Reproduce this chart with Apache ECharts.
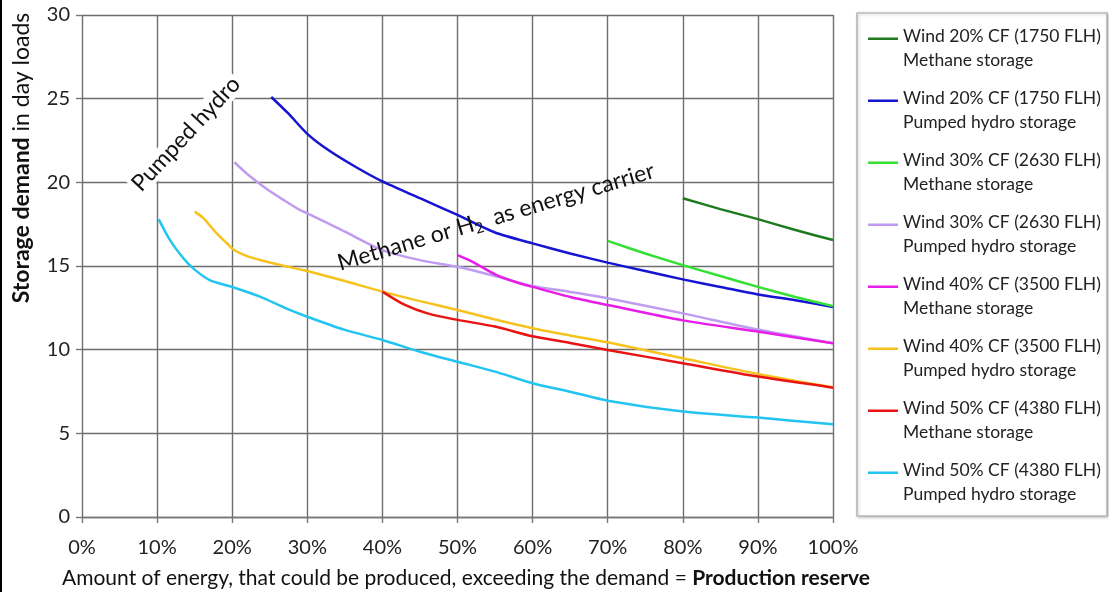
<!DOCTYPE html>
<html>
<head>
<meta charset="utf-8">
<script src="https://cdn.jsdelivr.net/npm/echarts@6/dist/echarts.min.js"></script>
<style>html,body{margin:0;padding:0;background:#fff;}#c{width:1109px;height:592px;}</style>
</head>
<body>
<div id="c"></div>
<script>
// ---- data (x = production reserve in %, y = storage demand in day loads) ----
const xTicks = [0, 10, 20, 30, 40, 50, 60, 70, 80, 90, 100];
const yTicks = [0, 5, 10, 15, 20, 25, 30];

const seriesNames = [
  'Wind 20% CF (1750 FLH)\nMethane storage',
  'Wind 20% CF (1750 FLH)\nPumped hydro storage',
  'Wind 30% CF (2630 FLH)\nMethane storage',
  'Wind 30% CF (2630 FLH)\nPumped hydro storage',
  'Wind 40% CF (3500 FLH)\nMethane storage',
  'Wind 40% CF (3500 FLH)\nPumped hydro storage',
  'Wind 50% CF (4380 FLH)\nMethane storage',
  'Wind 50% CF (4380 FLH)\nPumped hydro storage'
];

const wind20Methane = [[80,19.05],[85,18.4],[90,17.8],[95,17.15],[100,16.55]];
const wind20Hydro = [[25.2,25.1],[27.5,24.1],[30,22.9],[32.8,21.93],[36.4,20.93],[40,20.05],[45,19.05],[50,18.05],[55,17.0],[60,16.35],[65,15.75],[70,15.2],[75,14.7],[80,14.2],[85,13.75],[90,13.3],[95,12.95],[100,12.55]];
const wind30Methane = [[70,16.5],[75,15.75],[80,15.05],[85,14.4],[90,13.75],[95,13.15],[100,12.6]];
const wind30Hydro = [[20.3,21.2],[22,20.5],[24.6,19.6],[27,18.9],[29,18.35],[30,18.15],[35,17.05],[40,15.95],[45,15.35],[50,14.95],[55,14.4],[60,13.8],[65,13.45],[70,13.07],[80,12.17],[90,11.2],[100,10.38]];
const wind40Methane = [[50,15.65],[52,15.25],[55,14.5],[58,14.0],[60,13.75],[65,13.15],[70,12.67],[80,11.75],[90,11.08],[100,10.38]];
const wind40Hydro = [[15,18.25],[16.2,17.85],[17.9,16.96],[19.3,16.36],[20.1,16.0],[21.9,15.6],[23.7,15.36],[26,15.1],[29,14.8],[30,14.7],[35,14.1],[40,13.47],[45,12.9],[50,12.37],[55,11.8],[60,11.28],[65,10.85],[70,10.44],[80,9.49],[90,8.55],[100,7.75]];
const wind50Methane = [[40,13.47],[43,12.67],[46,12.17],[50,11.78],[55,11.38],[60,10.8],[65,10.4],[70,9.98],[80,9.19],[90,8.39],[100,7.73]];
const wind50Hydro = [[10.2,17.8],[11.7,16.56],[13.5,15.46],[14.8,14.86],[17,14.16],[20.1,13.73],[23.7,13.17],[27,12.5],[30,11.97],[35,11.18],[40,10.58],[45,9.88],[50,9.28],[55,8.69],[60,7.99],[65,7.49],[70,6.95],[80,6.3],[90,5.94],[100,5.54]];

const seriesData = [wind20Methane, wind20Hydro, wind30Methane, wind30Hydro, wind40Methane, wind40Hydro, wind50Methane, wind50Hydro];
const colors = ['#1f7a1f', '#1414d2', '#33e033', '#bf9cf0', '#e81ee8', '#f6c21e', '#e81414', '#22c4f0'];

const FONT = 'Lato';

const chart = echarts.init(document.getElementById('c'), null, {renderer: 'canvas'});

const series = seriesData.map((d, i) => ({
  name: seriesNames[i],
  type: 'line',
  data: d,
  smooth: 0.25,
  showSymbol: false,
  symbol: 'none',
  lineStyle: {color: colors[i], width: 2.5},
  itemStyle: {color: colors[i]},
  z: 3
}));

const option = {
  animation: false,
  backgroundColor: '#ffffff',
  color: colors,
  grid: {left: 82, right: 276, top: 15, bottom: 75, containLabel: false},
  xAxis: {
    type: 'value', min: 0, max: 100, interval: 10,
    axisLine: {show: true, lineStyle: {color: '#777', width: 1.4}},
    axisTick: {show: true, length: 6, lineStyle: {color: '#777', width: 1.4}},
    axisLabel: {formatter: v => v + '%', fontFamily: FONT, fontSize: 20, color: '#222', margin: 21},
    splitLine: {show: true, lineStyle: {color: '#6e6e6e', width: 1.4}}
  },
  yAxis: {
    type: 'value', min: 0, max: 30, interval: 5,
    axisLine: {show: false},
    axisTick: {show: true, length: 6, lineStyle: {color: '#777', width: 1.4}},
    axisLabel: {fontFamily: FONT, fontSize: 20, color: '#222', margin: 12},
    splitLine: {show: true, lineStyle: {color: '#6e6e6e', width: 1.4}}
  },
  legend: {
    orient: 'vertical',
    left: 868, top: 24,
    padding: 0,
    itemGap: 13,
    itemWidth: 30, itemHeight: 22,
    icon: 'path://M0,0H30V2.6H0Z M0,22H0.01V22.01H0Z',
    itemStyle: {borderWidth: 0},
    textStyle: {fontFamily: FONT, fontSize: 17.5, color: '#222', lineHeight: 24.5},
    selectedMode: false
  },
  graphic: [
    {type: 'rect', shape: {x: 857, y: 13, width: 250, height: 503}, style: {fill: '#fff', stroke: '#a6a6a6', lineWidth: 1.2, shadowBlur: 3, shadowColor: 'rgba(0,0,0,0.25)', shadowOffsetX: 1, shadowOffsetY: 1}, z: -1},
    {type: 'rect', shape: {x: 0, y: 0, width: 2, height: 592}, style: {fill: '#000'}},
    {type: 'text', x: 22, y: 158, rotation: Math.PI / 2,
      style: {text: '{b|Storage demand} in day loads', align: 'center', verticalAlign: 'middle',
        fontFamily: FONT, fontSize: 23, fill: '#111',
        rich: {b: {fontWeight: 'bold', fontFamily: FONT, fontSize: 23, fill: '#111'}}}},
    {type: 'text', x: 466, y: 578,
      style: {text: 'Amount of energy, that could be produced, exceeding the demand = {b|Production reserve}', align: 'center', verticalAlign: 'middle',
        fontFamily: FONT, fontSize: 21, fill: '#111',
        rich: {b: {fontWeight: 'bold', fontFamily: FONT, fontSize: 21, fill: '#111'}}}},
    {type: 'text', x: 186, y: 134, rotation: 47 * Math.PI / 180, z: 10,
      style: {text: 'Pumped hydro', align: 'center', verticalAlign: 'middle', fontFamily: FONT, fontSize: 23, fill: '#111',
        backgroundColor: '#fff', padding: [0, 2, 0, 2]}},
    {type: 'text', x: 496, y: 217, rotation: 16.5 * Math.PI / 180, z: 10,
      style: {text: 'Methane or H{s|2}  as energy carrier', align: 'center', verticalAlign: 'middle', fontFamily: FONT, fontSize: 23, fill: '#111',
        rich: {s: {fontFamily: FONT, fontSize: 15, fill: '#111', verticalAlign: 'bottom', padding: [12, 0, 0, 0]}}}}
  ],
  series: series
};

chart.setOption(option);
</script>
</body>
</html>
